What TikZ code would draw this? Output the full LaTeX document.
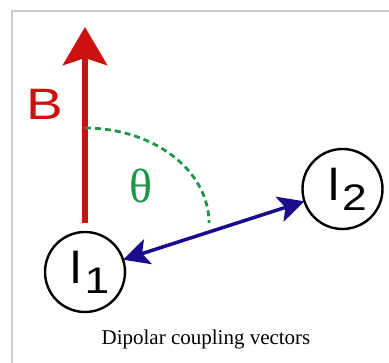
\documentclass[tikz,border=0pt]{standalone}
\usepackage{fontspec}
\setmainfont{Liberation Serif}
\newfontfamily\labelsans{Liberation Sans}
\usetikzlibrary{arrows.meta}
\definecolor{fieldred}{HTML}{CC1111}
\definecolor{anglegreen}{HTML}{1E9646}
\definecolor{vecblue}{HTML}{1A0A8C}
\definecolor{framegray}{HTML}{CCCCCC}
\tikzset{
  spin/.style={circle, draw=black, line width=2.4pt, minimum size=80pt, inner sep=0pt, outer sep=0pt,
    font=\labelsans\fontsize{47}{47}\selectfont},
  fieldarrow/.style={draw=fieldred, line width=6.5pt, -{Stealth[length=38pt,width=44pt,inset=7pt]}},
  couplingarrow/.style={draw=vecblue, line width=3.5pt,
    {Stealth[length=26pt,width=26pt,inset=6pt]}-{Stealth[length=26pt,width=26pt,inset=6pt]}},
  anglearc/.style={draw=anglegreen, line width=2.8pt, dash pattern=on 6pt off 4pt},
  framestyle/.style={draw=framegray, line width=1.2pt}
}
\newcommand{\spinlabel}[1]{\kern9pt I\kern2pt\raisebox{-10pt}{\scalebox{1.2}[1]{\fontsize{37}{37}\selectfont #1}}}
\begin{document}
\begin{tikzpicture}[x=1pt,y=-1pt]
\useasboundingbox (0,0) rectangle (389,363);
% frame
\coordinate (fbl) at (12,363);
\coordinate (ftl) at (12,11);
\coordinate (ftr) at (389,11);
\draw[framestyle] (fbl) -- (ftl) -- (ftr);
% field arrow
\coordinate (btail) at (85,223);
\coordinate (btip) at (85,27);
\draw[fieldarrow] (btail) -- (btip);
\node[font=\labelsans\fontsize{44}{44}\selectfont, text=fieldred, anchor=base, xscale=1.25] (blabel) at (45,120) {B};
% angle arc
\coordinate (arcstart) at (85,128);
\coordinate (arcend) at (209,223);
\draw[anglearc] (arcstart) .. controls (153.5,128) and (209,170.5) .. (arcend);
\node[font=\fontsize{48}{48}\selectfont, text=anglegreen] (theta) at (141,186) {θ};
% spins
\node[spin] (i1) at (85,272) {\spinlabel{1}};
\node[spin] (i2) at (342.5,189) {\spinlabel{2}};
\draw[couplingarrow] (i1) -- (i2);
% caption
\node[font=\fontsize{21}{21}\selectfont, anchor=base] (caption) at (206,345) {Dipolar coupling vectors};
\end{tikzpicture}
\end{document}
